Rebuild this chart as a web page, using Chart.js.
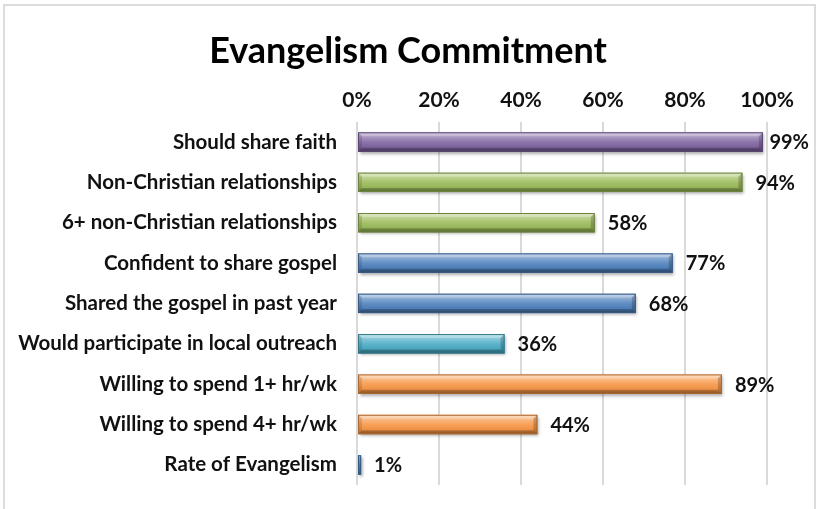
<!DOCTYPE html>
<html>
<head>
<meta charset="utf-8">
<title>Evangelism Commitment</title>
<script src="https://cdn.jsdelivr.net/npm/chart.js@4.4.0/dist/chart.umd.min.js"></script>
<style>
    html, body { margin: 0; padding: 0; background: #fff; overflow: hidden; }
    #frame { position: absolute; left: 3px; top: 4px; width: 813px; height: 520px; border: 2px solid #dcdcdc; box-sizing: border-box; }
    #wrap { position: absolute; left: 0; top: 0; width: 817px; height: 509px; }
</style>
</head>
<body>
<div id="frame"></div>
<div id="wrap"><canvas id="commitChart"></canvas></div>
<script>
const chartTitle = 'Evangelism Commitment';
const categories = [
    'Should share faith',
    'Non-Christian relationships',
    '6+ non-Christian relationships',
    'Confident to share gospel',
    'Shared the gospel in past year',
    'Would participate in local outreach',
    'Willing to spend 1+ hr/wk',
    'Willing to spend 4+ hr/wk',
    'Rate of Evangelism'
];
const percentages = [99, 94, 58, 77, 68, 36, 89, 44, 1];
const barColors = ['#8064A2', '#9BBB59', '#9BBB59', '#4F81BD', '#4F81BD', '#4BACC6', '#F79646', '#F79646', '#4F81BD'];
const tickLabels = ['0%', '20%', '40%', '60%', '80%', '100%'];

Chart.defaults.font.family = 'Lato, "Open Sans", sans-serif';
Chart.defaults.color = '#111';

function shade(hex, amt) {
    // amt > 0 lightens towards white, < 0 darkens towards black
    const n = parseInt(hex.slice(1), 16);
    let r = n >> 16, g = (n >> 8) & 255, b = n & 255;
    const t = amt < 0 ? 0 : 255, p = Math.abs(amt);
    r = Math.round((t - r) * p + r);
    g = Math.round((t - g) * p + g);
    b = Math.round((t - b) * p + b);
    return `rgb(${r},${g},${b})`;
}

// title centred on the whole frame rather than on the chart box
const frameTitle = {
    id: 'frameTitle',
    afterDraw(chart) {
        const ctx = chart.ctx;
        ctx.save();
        ctx.font = 'bold 36px Lato, sans-serif';
        ctx.fillStyle = '#000';
        ctx.textAlign = 'center';
        ctx.textBaseline = 'alphabetic';
        ctx.fillText(chartTitle, 408, 63);
        ctx.restore();
    }
};

// drop shadow under the bars, then a bevelled "tube" finish on top
const bevelBars = {
    id: 'bevelBars',
    beforeDatasetsDraw(chart) {
        const ctx = chart.ctx;
        ctx.save();
        ctx.shadowColor = 'rgba(0,0,0,0.35)';
        ctx.shadowBlur = 3;
        ctx.shadowOffsetX = 1.5;
        ctx.shadowOffsetY = 2;
    },
    afterDatasetsDraw(chart) {
        const ctx = chart.ctx;
        ctx.restore();
        chart.getDatasetMeta(0).data.forEach((bar, i) => {
            const { x, y, base, height } = bar.getProps(['x', 'y', 'base', 'height'], true);
            const left = Math.min(base, x), right = Math.max(base, x);
            const top = y - height / 2, bottom = y + height / 2;
            const w = right - left;
            const b = Math.min(4, w / 2);
            const col = barColors[i];

            ctx.save();
            const g = ctx.createLinearGradient(0, top, 0, bottom);
            g.addColorStop(0, shade(col, 0.55));
            g.addColorStop(0.22, shade(col, 0.35));
            g.addColorStop(0.5, shade(col, 0.1));
            g.addColorStop(0.8, shade(col, -0.05));
            g.addColorStop(1, shade(col, -0.3));
            ctx.fillStyle = g;
            ctx.fillRect(left, top, w, height);

            const poly = (pts, fill) => {
                ctx.beginPath();
                ctx.moveTo(pts[0][0], pts[0][1]);
                pts.slice(1).forEach(p => ctx.lineTo(p[0], p[1]));
                ctx.closePath();
                ctx.fillStyle = fill;
                ctx.fill();
            };
            // top & bottom rims
            poly([[left, top], [right, top], [right - b, top + b], [left + b, top + b]], 'rgba(255,255,255,0.25)');
            poly([[left, bottom], [right, bottom], [right - b, bottom - b], [left + b, bottom - b]], 'rgba(0,0,0,0.22)');
            // end caps
            poly([[left, top], [left + b, top + b], [left + b, bottom - b], [left, bottom]], 'rgba(0,0,0,0.12)');
            poly([[right, top], [right - b, top + b], [right - b, bottom - b], [right, bottom]], 'rgba(0,0,0,0.2)');

            ctx.strokeStyle = shade(col, -0.3);
            ctx.lineWidth = 1;
            ctx.strokeRect(left + 0.5, top + 0.5, w - 1, height - 1);
            ctx.restore();
        });
    }
};

// percentage text at the end of each bar, pulled back if it would leave the frame
const valueLabels = {
    id: 'valueLabels',
    afterDraw(chart) {
        const ctx = chart.ctx;
        ctx.save();
        ctx.font = 'bold 20px Lato, sans-serif';
        ctx.fillStyle = '#111';
        ctx.textAlign = 'left';
        ctx.textBaseline = 'middle';
        chart.getDatasetMeta(0).data.forEach((bar, i) => {
            const txt = percentages[i] + '%';
            const maxX = chart.width - 8 - ctx.measureText(txt).width;
            ctx.fillText(txt, Math.min(bar.x + 13, maxX), bar.y + 1);
        });
        ctx.restore();
    }
};

new Chart(document.getElementById('commitChart'), {
    type: 'bar',
    data: {
        labels: categories,
        datasets: [{
            data: percentages,
            backgroundColor: barColors,
            borderWidth: 0,
            barPercentage: 0.48,
            categoryPercentage: 1
        }]
    },
    options: {
        indexAxis: 'y',
        responsive: true,
        maintainAspectRatio: false,
        animation: false,
        layout: { padding: { top: 72.8, right: 50, bottom: 24, left: 0 } },
        plugins: {
            legend: { display: false },
            tooltip: { enabled: false },
            title: { display: false }
        },
        scales: {
            x: {
                position: 'top',
                min: 0,
                max: 100,
                ticks: {
                    stepSize: 20,
                    padding: 9,
                    font: { size: 21, weight: 'bold' },
                    color: '#111',
                    callback: (v, i) => tickLabels[i]
                },
                grid: { color: '#d9d9d9', lineWidth: 2, drawTicks: false },
                border: { display: false },
                afterFit: scale => { scale.height = 49; }
            },
            y: {
                ticks: {
                    padding: 20,
                    font: { size: 20.5, weight: 'bold' },
                    color: '#111'
                },
                grid: { display: false, drawTicks: false },
                border: { display: false },
                afterFit: scale => {
                    scale.width = 357;
                    // labels sit inside the rows, no extra room needed above/below
                    scale.paddingTop = 0;
                    scale.paddingBottom = 0;
                }
            }
        }
    },
    plugins: [bevelBars, valueLabels, frameTitle]
});
</script>
</body>
</html>
